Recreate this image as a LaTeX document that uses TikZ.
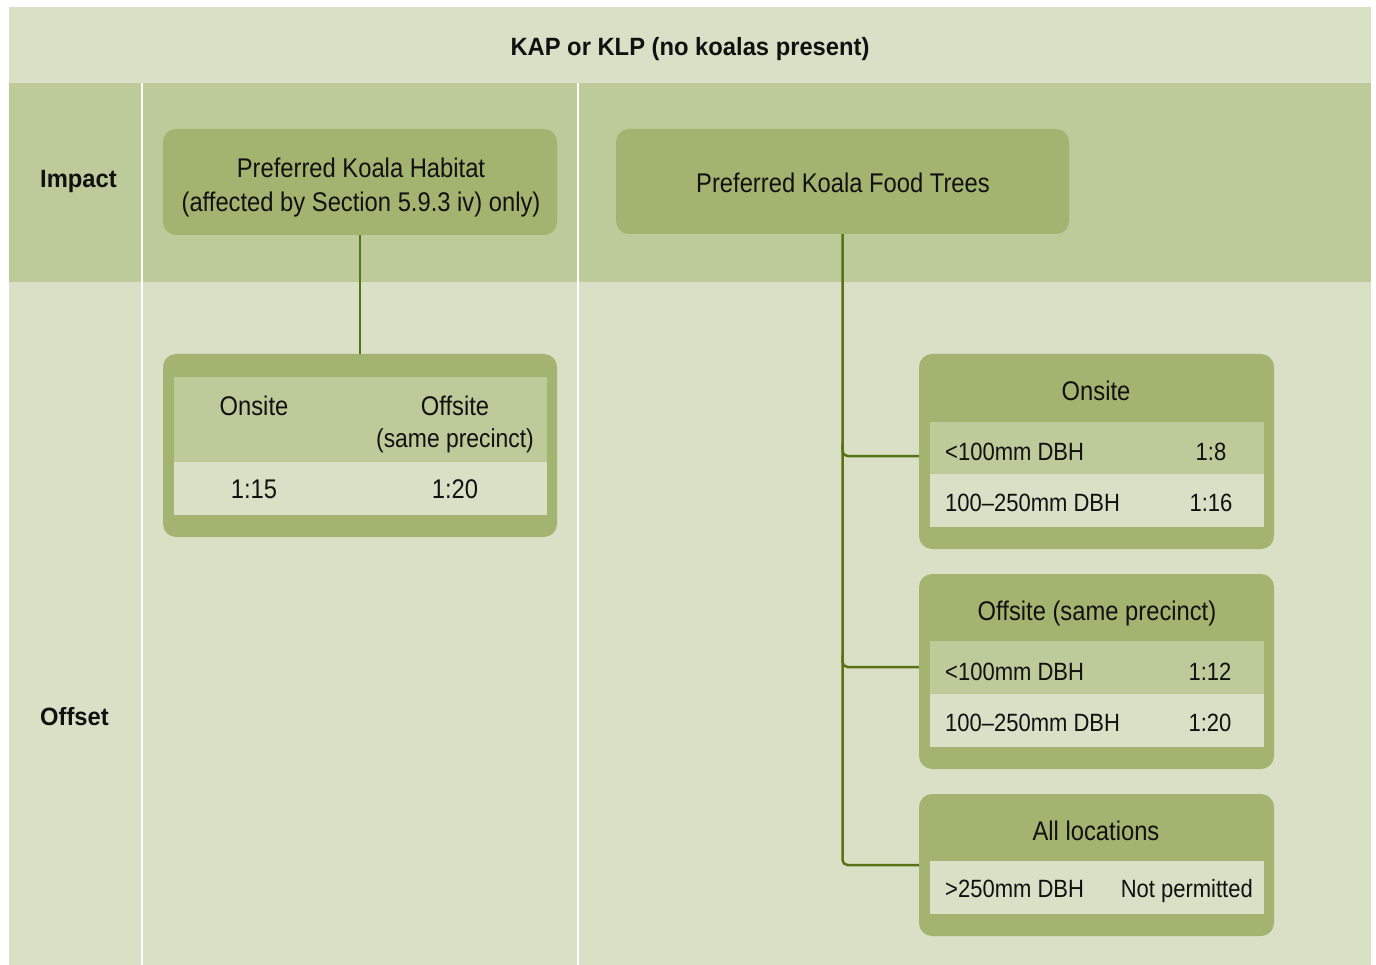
\documentclass[tikz,border=0pt]{standalone}
\usepackage{fontspec}
\setmainfont{Liberation Sans}[FakeStretch=0.88]
\newfontfamily\boldsans{Liberation Sans}[FakeStretch=0.95]
\definecolor{lightg}{RGB}{218,224,198}
\definecolor{midg}{RGB}{189,202,154}
\definecolor{boxg}{RGB}{162,180,112}
\definecolor{lineg}{RGB}{88,114,22}
\definecolor{ink}{RGB}{17,17,17}
\begin{document}
\begin{tikzpicture}[x=1pt,y=-1pt,
  bigtxt/.style={anchor=base, inner sep=0pt, text=ink, font=\fontsize{27}{32}\selectfont},
  rowtxt/.style={anchor=base west, inner sep=0pt, text=ink, font=\fontsize{25}{29}\selectfont},
  valtxt/.style={anchor=base, inner sep=0pt, text=ink, font=\fontsize{25}{29}\selectfont},
  boldtxt/.style={inner sep=0pt, text=ink, font=\boldsans\bfseries\fontsize{25}{29}\selectfont},
  greenbox/.style={draw=none, fill=boxg, rounded corners=13pt, inner sep=0pt},
  conn/.style={draw=lineg, line width=2.5pt}
]
\useasboundingbox (0,0) rectangle (1376,965);
\fill[white] (0,0) rectangle (1376,965);
% bands
\fill[lightg] (9,7) rectangle (1371,83);
\fill[midg] (9,83) rectangle (1371,282);
\fill[lightg] (9,282) rectangle (1371,965);
\draw[white, line width=2.6pt] (141.8,83) -- (141.8,965);
\draw[white, line width=2.6pt] (578,83) -- (578,965);

% headings
\node[boldtxt, anchor=base] (title) at (690,56) {KAP or KLP (no koalas present)};
\node[boldtxt, anchor=base west] (impact) at (40,188) {Impact};
\node[boldtxt, anchor=base west] (offset) at (40,725) {Offset};

% impact boxes
\node[greenbox, minimum width=394pt, minimum height=106pt] (pkh) at (360,182) {};
\node[bigtxt] (pkh1) at (361,178) {Preferred Koala Habitat};
\node[bigtxt] (pkh2) at (361,212) {(affected by Section 5.9.3 iv) only)};

\node[greenbox, minimum width=453pt, minimum height=105pt] (pkft) at (842.5,181.5) {};
\node[bigtxt] (pkft1) at (843,193) {Preferred Koala Food Trees};

% left offset box
\node[greenbox, minimum width=394pt, minimum height=183pt] (lbox) at (360,445.5) {};
\fill[midg] (174,377) rectangle (547,462);
\fill[lightg] (174,462) rectangle (547,515);
\node[bigtxt] (lon) at (254,416) {Onsite};
\node[bigtxt] (loff) at (455,416) {Offsite};
\node[bigtxt, font=\fontsize{26}{30}\selectfont] (lsp) at (455,447) {(same precinct)};
\node[bigtxt] (l115) at (254,498) {1:15};
\node[bigtxt] (l120) at (455,498) {1:20};

% right boxes
\node[greenbox, minimum width=355pt, minimum height=195pt] (b1) at (1096.5,451.5) {};
\fill[midg] (930,422) rectangle (1264,474);
\fill[lightg] (930,474) rectangle (1264,527);
\node[bigtxt] (b1t) at (1096,400) {Onsite};
\node[rowtxt] (b1r1) at (945,460) {<100mm DBH};
\node[valtxt] (b1v1) at (1211,460) {1:8};
\node[rowtxt] (b1r2) at (945,511) {100–250mm DBH};
\node[valtxt] (b1v2) at (1211,511) {1:16};

\node[greenbox, minimum width=355pt, minimum height=195pt] (b2) at (1096.5,671.5) {};
\fill[midg] (930,641) rectangle (1264,694);
\fill[lightg] (930,694) rectangle (1264,747);
\node[bigtxt] (b2t) at (1097,620) {Offsite (same precinct)};
\node[rowtxt] (b2r1) at (945,680) {<100mm DBH};
\node[valtxt] (b2v1) at (1210,680) {1:12};
\node[rowtxt] (b2r2) at (945,731) {100–250mm DBH};
\node[valtxt] (b2v2) at (1210,731) {1:20};

\node[greenbox, minimum width=355pt, minimum height=142pt] (b3) at (1096.5,865) {};
\fill[lightg] (930,861) rectangle (1264,914);
\node[bigtxt] (b3t) at (1096,840) {All locations};
\node[rowtxt] (b3r1) at (945,897) {>250mm DBH};
\node[rowtxt, anchor=base east] (b3v1) at (1253,897) {Not permitted};

% connectors
\draw[conn] (pkh.south) -- (lbox.north);
\draw[conn, rounded corners=5pt] (pkft.south) |- (b3.west);
\draw[conn, rounded corners=5pt] ([yshift=8pt]b1.west -| pkft.south) |- ([yshift=-4.5pt]b1.west);
\draw[conn, rounded corners=5pt] ([yshift=16pt]b2.west -| pkft.south) |- ([yshift=4.5pt]b2.west);
\end{tikzpicture}
\end{document}
